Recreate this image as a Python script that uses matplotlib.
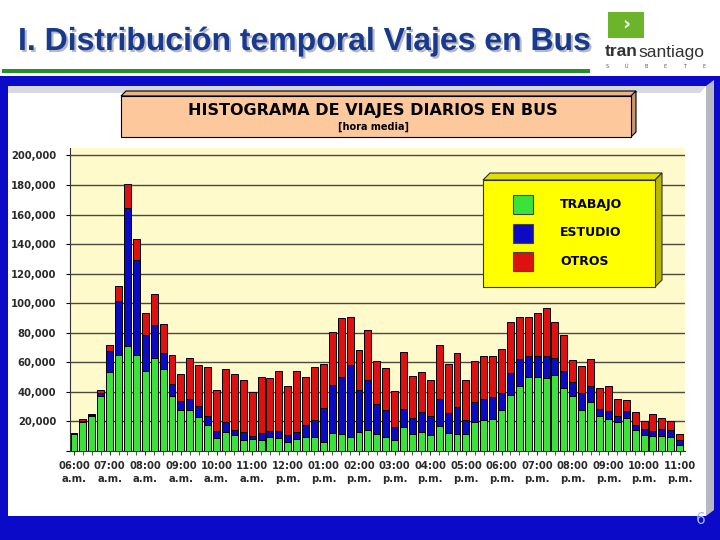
import numpy as np
import matplotlib
matplotlib.use("Agg")
import matplotlib.pyplot as plt
import matplotlib.patheffects as pe
from matplotlib.patches import Polygon
from matplotlib.transforms import Affine2D

# ---------------------------------------------------------------------------
# data: trips per 15-minute bin (thousands), 06:00 to 23:00
trabajo = [11.5, 19.6, 23.5, 37.5, 53.7, 65.0, 71.3, 65.0, 54.1, 62.9, 55.5, 37.2,
           27.5, 28.0, 22.8, 17.3, 8.8, 12.9, 10.6, 7.7, 8.4, 7.2, 9.5, 9.0,
           5.9, 8.1, 9.7, 9.3, 6.4, 12.4, 11.5, 9.5, 12.9, 14.5, 11.5, 9.5,
           7.7, 16.0, 11.3, 12.9, 11.1, 16.9, 12.4, 11.8, 11.5, 19.8, 20.8, 21.4,
           27.5, 37.9, 44.2, 49.9, 49.9, 49.2, 51.2, 42.4, 37.5, 28.0, 33.4, 23.7,
           21.9, 19.6, 22.6, 14.5, 11.1, 10.2, 10.2, 9.7, 4.3]
estudio = [0.5, 0.8, 1.0, 1.5, 14.0, 36.8, 93.1, 64.5, 24.2, 22.1, 11.1, 8.4,
           6.1, 7.2, 7.4, 6.1, 5.0, 6.7, 3.4, 5.0, 1.8, 5.2, 3.8, 4.3,
           4.9, 5.0, 7.9, 11.9, 23.0, 32.1, 38.6, 48.6, 28.1, 33.8, 20.3, 18.0,
           8.5, 12.2, 11.0, 13.3, 12.4, 18.6, 13.3, 18.0, 9.3, 13.1, 14.2, 15.1,
           12.0, 15.1, 18.0, 14.6, 14.6, 15.3, 12.0, 12.0, 9.0, 11.0, 10.4, 4.5,
           5.4, 3.8, 4.3, 2.9, 3.6, 3.1, 4.7, 4.3, 3.4]
otros = [0.3, 1.5, 0.8, 2.5, 3.8, 9.6, 16.0, 14.2, 14.9, 21.2, 19.6, 19.1,
         18.8, 28.0, 28.0, 33.3, 27.7, 36.1, 38.1, 35.3, 29.5, 37.9, 36.3, 40.8,
         33.2, 41.0, 32.3, 35.4, 29.3, 35.9, 39.9, 32.4, 27.1, 33.4, 28.9, 28.7,
         24.2, 38.8, 28.2, 27.5, 24.3, 36.0, 33.0, 36.8, 27.0, 27.8, 29.5, 28.0,
         29.3, 34.0, 28.7, 26.4, 29.1, 32.5, 23.8, 24.1, 15.3, 18.3, 18.4, 14.1,
         16.6, 11.6, 7.4, 9.3, 5.4, 12.0, 7.4, 6.3, 4.1]
horas = ["06:00", "07:00", "08:00", "09:00", "10:00", "11:00", "12:00", "01:00", "02:00",
         "03:00", "04:00", "05:00", "06:00", "07:00", "08:00", "09:00", "10:00", "11:00"]
sufijos = ["a.m."] * 6 + ["p.m."] * 12
series = ["TRABAJO", "ESTUDIO", "OTROS"]
y_ticks = list(range(0, 200001, 20000))

# ---------------------------------------------------------------------------
GREEN = "#3be23b"
BLUE = "#0b0bc4"
RED = "#dd1111"

fig = plt.figure(figsize=(7.2, 5.4), dpi=100)
fig.patch.set_facecolor("white")
pix = Affine2D().scale(1 / 720, -1 / 540).translate(0, 1) + fig.transFigure


def poly(pts, fc, ec="none", lw=0.8, z=1):
    fig.patches.append(Polygon(pts, closed=True, facecolor=fc, edgecolor=ec,
                               linewidth=lw, transform=pix, zorder=z))


# slide background
poly([(0, 76), (720, 76), (720, 540), (0, 540)], "#0a0ac8")
poly([(8, 86), (706, 86), (706, 516), (8, 516)], "white")
poly([(8, 86), (706, 86), (700, 93), (8, 93)], "#d8d8e0")
poly([(706, 86), (714, 80), (714, 510), (706, 516)], "#b8b8c0")
poly([(2, 69), (590, 69), (590, 73), (2, 73)], "#24902a")

# header title (with drop shadow)
fig.text(18, 42, "I. Distribución temporal Viajes en Bus", transform=pix,
         fontsize=23, fontweight="bold", family="Liberation Sans", color="#173a8e",
         va="center", ha="left",
         path_effects=[pe.withSimplePatchShadow(offset=(1.5, -1.5),
                                                shadow_rgbFace="#b8b8c0", alpha=1)])

# logo
poly([(608, 12), (644, 12), (644, 38), (608, 38)], "#6cb42a")
fig.text(626, 24, "›", transform=pix, fontsize=14, fontweight="bold",
         color="white", ha="center", va="center")
fig.text(638, 52, "tran", transform=pix, fontsize=12.5, fontweight="bold",
         color="#333333", ha="right", va="center", family="Liberation Sans")
fig.text(638, 52, "santiago", transform=pix, fontsize=12.5,
         color="#333333", ha="left", va="center", family="Liberation Sans")
for i, ch in enumerate("SÚBETE"):
    fig.text(607 + i * 19.5, 67, ch, transform=pix, fontsize=3.5,
             color="#555555", ha="center", va="center")

# page number
fig.text(701, 520, "6", transform=pix, fontsize=11, color="#9fb8ff",
         ha="center", va="center")

# chart box title
poly([(121, 96), (126, 91), (636, 91), (631, 96)], "#e8b48a", "black", 0.8, 2)
poly([(631, 96), (636, 91), (636, 132), (631, 137)], "#c99670", "black", 0.8, 2)
poly([(121, 96), (631, 96), (631, 137), (121, 137)], "#fcc89c", "black", 0.8, 2)
fig.text(373, 111, "HISTOGRAMA DE VIAJES DIARIOS EN BUS", transform=pix,
         fontsize=11.5, fontweight="bold", color="black", ha="center",
         va="center", zorder=3)
fig.text(373, 127, "[hora media]", transform=pix, fontsize=7,
         fontweight="bold", color="black", ha="center", va="center", zorder=3)

# chart
ax = fig.add_axes([70 / 720, 1 - 451 / 540, 615 / 720, (451 - 148) / 540])
ax.set_zorder(3)
ax.set_facecolor("#fefacb")
x = np.arange(len(trabajo))
t = np.array(trabajo) * 1000
e = np.array(estudio) * 1000
o = np.array(otros) * 1000
ax.bar(x, t, width=0.78, color=GREEN, edgecolor="black", linewidth=0.7, zorder=3)
ax.bar(x, e, bottom=t, width=0.78, color=BLUE, edgecolor="black", linewidth=0.7, zorder=3)
ax.bar(x, o, bottom=t + e, width=0.78, color=RED, edgecolor="black", linewidth=0.7, zorder=3)

ax.set_xlim(-0.45, 68.6)
ax.set_ylim(0, 205000)
ax.set_yticks(y_ticks)
ax.set_yticklabels([""] + [f"{v:,}" for v in y_ticks[1:]])
ax.yaxis.grid(True, color="#4a4a40", linewidth=1)
ax.set_axisbelow(True)
ax.set_xticks(np.arange(0, 69, 4))
ax.set_xticklabels([f"{h}\n{s}" for h, s in zip(horas, sufijos)])
ax.set_xticks(x, minor=True)
ax.tick_params(axis="x", which="both", length=3, color="#333333", pad=4)
ax.tick_params(axis="y", length=3, pad=7)
for lab in ax.get_xticklabels() + ax.get_yticklabels():
    lab.set_fontsize(7.2)
    lab.set_fontweight("bold")
    lab.set_color("#2a2a2a")
for lab in ax.get_xticklabels():
    lab.set_linespacing(1.45)
for s in ["top", "right"]:
    ax.spines[s].set_visible(False)
ax.spines["left"].set_color("#333333")
ax.spines["bottom"].set_color("#333333")

# legend box
poly([(483, 180), (490, 173), (662, 173), (655, 180)], "#e0e000", "#333333", 0.8, 5)
poly([(655, 180), (662, 173), (662, 280), (655, 287)], "#b8b800", "#333333", 0.8, 5)
poly([(483, 180), (655, 180), (655, 287), (483, 287)], "#ffff00", "#333333", 0.8, 5)
for i, (name, col) in enumerate(zip(series, [GREEN, BLUE, RED])):
    y0 = 195 + i * 28.5
    poly([(513, y0), (533, y0), (533, y0 + 19), (513, y0 + 19)], col, "#444444", 0.8, 6)
    fig.text(560, y0 + 9.5, name, transform=pix, fontsize=9, fontweight="bold",
             color="black", ha="left", va="center", zorder=7)

fig.savefig("out.png", dpi=100)
